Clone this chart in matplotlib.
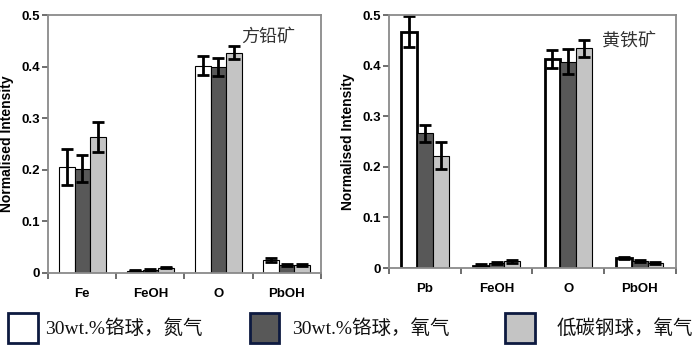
import numpy as np
import matplotlib.pyplot as plt
from matplotlib.patches import Rectangle

plt.rcParams['font.family'] = ['Liberation Sans', 'Noto Sans CJK SC', 'DejaVu Sans']

# left panel (galena)
cats_l = ["Fe", "FeOH", "O", "PbOH"]
white_l = [0.205, 0.004, 0.402, 0.025]
white_l_err = [0.035, 0.001, 0.018, 0.003]
dark_l = [0.202, 0.006, 0.399, 0.016]
dark_l_err = [0.026, 0.002, 0.018, 0.002]
light_l = [0.264, 0.010, 0.427, 0.015]
light_l_err = [0.029, 0.001, 0.013, 0.002]

# right panel (pyrite)
cats_r = ["Pb", "FeOH", "O", "PbOH"]
white_r = [0.467, 0.005, 0.413, 0.020]
white_r_err = [0.031, 0.002, 0.018, 0.002]
dark_r = [0.266, 0.009, 0.408, 0.014]
dark_r_err = [0.016, 0.002, 0.025, 0.002]
light_r = [0.222, 0.013, 0.434, 0.010]
light_r_err = [0.027, 0.003, 0.016, 0.002]

legend_labels = ["30wt.%铬球，氮气", "30wt.%铬球，氧气", "低碳钢球，氧气"]
colors = ["white", "#585858", "#c4c4c4"]


def panel(ax, cats, series, errs, title, tx, ty, bw, white_lw):
    x = np.arange(len(cats))
    for k, (vals, err) in enumerate(zip(series, errs)):
        lw = white_lw if k == 0 else 0.8
        ax.bar(x + (k - 1) * bw, vals, bw, color=colors[k], edgecolor="black", linewidth=lw,
               yerr=err, error_kw=dict(ecolor="black", elinewidth=2, capsize=4, capthick=2), zorder=2)
    ax.set_xlim(-0.5, len(cats) - 0.5)
    ax.set_ylim(0, 0.5)
    ax.set_yticks([0, 0.1, 0.2, 0.3, 0.4, 0.5])
    ax.set_yticklabels(["0", "0.1", "0.2", "0.3", "0.4", "0.5"])
    ax.set_xticks(x)
    ax.set_xticklabels(cats)
    ax.set_xticks(np.arange(len(cats) + 1) - 0.5, minor=True)
    ax.tick_params(axis="x", which="major", length=0, pad=11)
    ax.tick_params(axis="x", which="minor", length=4, width=1.2, color="#555555")
    ax.tick_params(axis="y", length=4, width=1.2, color="#555555", pad=2)
    for lab in ax.get_xticklabels() + ax.get_yticklabels():
        lab.set_fontweight("bold")
        lab.set_fontsize(9.5)
    for s in ax.spines.values():
        s.set_color("#8a8a8a")
        s.set_linewidth(1.3)
    ax.set_ylabel("Normalised Intensity", fontsize=10, fontweight="bold", labelpad=5)
    ax.text(tx, ty, title, transform=ax.transAxes, fontsize=13,
            family=["Noto Sans CJK SC"], color="#333333", va="center")


fig = plt.figure(figsize=(7, 3.49), dpi=100)
ax1 = fig.add_axes([0.069, 0.218, 0.389, 0.739])
ax2 = fig.add_axes([0.556, 0.232, 0.409, 0.725])

panel(ax1, cats_l, [white_l, dark_l, light_l], [white_l_err, dark_l_err, light_l_err],
      "方铅矿", 0.71, 0.915, 0.23, 0.8)
panel(ax2, cats_r, [white_r, dark_r, light_r], [white_r_err, dark_r_err, light_r_err],
      "黄铁矿", 0.745, 0.9, 0.22, 2.0)

# legend along the bottom
box_x = [0.012, 0.357, 0.722]
txt_x = [0.064, 0.417, 0.795]
for bx, tx, c, lab in zip(box_x, txt_x, colors, legend_labels):
    fig.add_artist(Rectangle((bx, 0.018), 0.042, 0.086, transform=fig.transFigure,
                             facecolor=c, edgecolor="#0d1a40", linewidth=2))
    fig.text(tx, 0.058, lab, fontsize=14, va="center",
             family=["Liberation Serif", "Noto Sans CJK SC"], color="#111111")

plt.savefig("out.png", dpi=100)
